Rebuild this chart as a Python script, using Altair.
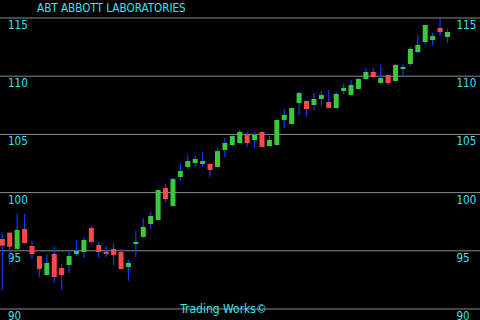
import altair as alt
import pandas as pd

# OHLC (61 sessions)
opens = [96.01, 96.56, 95.16, 96.87, 95.41, 94.55, 92.92, 94.73, 93.52, 93.78,
         94.73, 94.90, 96.96, 95.50, 94.92, 95.16, 94.90, 93.61, 95.58, 96.19,
         97.30, 97.65, 100.40, 98.85, 101.34, 102.20, 102.54, 102.46, 102.46, 102.20,
         103.66, 104.09, 104.26, 104.95, 104.52, 105.21, 104.00, 104.09, 106.24, 105.89,
         107.70, 107.87, 107.52, 108.04, 107.78, 107.27, 108.73, 108.38, 108.90, 109.76,
         110.36, 109.41, 110.10, 109.59, 110.62, 111.05, 112.08, 112.94, 113.11, 114.14,
         113.37]
highs = [96.50, 96.60, 98.16, 98.16, 95.84, 94.60, 94.73, 95.33, 93.87, 94.90,
         95.93, 96.19, 97.13, 95.76, 95.41, 95.67, 95.16, 94.21, 96.70, 97.82,
         98.33, 100.31, 100.74, 101.25, 102.54, 103.23, 103.14, 103.49, 102.50, 103.83,
         104.69, 104.90, 105.46, 105.21, 105.21, 105.25, 104.86, 106.30, 107.18, 107.30,
         108.64, 107.95, 108.56, 108.73, 108.81, 108.64, 109.33, 109.67, 109.80, 110.70,
         110.70, 110.96, 110.19, 111.05, 111.05, 112.51, 113.54, 114.40, 113.71, 114.91,
         114.05]
lows = [91.63, 93.78, 95.10, 95.60, 94.30, 92.75, 92.90, 92.32, 91.63, 93.09,
        94.55, 94.38, 95.67, 94.38, 94.47, 93.78, 93.35, 92.41, 94.47, 96.15,
        96.87, 97.60, 99.19, 98.80, 101.00, 102.03, 102.20, 102.20, 101.34, 102.15,
        103.06, 103.92, 104.20, 103.92, 103.83, 103.90, 103.95, 104.05, 105.55, 105.85,
        106.67, 106.49, 107.10, 107.44, 107.27, 107.18, 108.47, 108.35, 108.85, 109.67,
        109.90, 109.38, 109.24, 109.55, 110.02, 110.88, 111.99, 112.76, 112.59, 113.45,
        112.85]
closes = [95.44, 95.35, 96.79, 95.67, 94.73, 93.44, 93.95, 92.75, 92.92, 94.55,
          94.98, 95.93, 95.76, 94.90, 94.73, 94.64, 93.44, 93.95, 95.76, 97.05,
          97.99, 100.22, 99.45, 101.17, 101.86, 102.71, 102.89, 102.71, 101.94, 103.57,
          104.26, 104.86, 105.21, 104.26, 104.95, 103.92, 104.52, 106.24, 106.67, 107.27,
          108.56, 107.18, 108.04, 108.38, 107.27, 108.47, 108.99, 109.24, 109.76, 110.36,
          109.93, 109.84, 109.41, 110.96, 110.79, 112.34, 112.68, 114.40, 113.45, 113.80,
          113.80]
grid_levels = [90, 95, 100, 105, 110, 115]
title_text = "ABT  ABBOTT LABORATORIES"
credit_text = "Trading Works\u00a9"

CYAN = "#36e4f0"
FONT = "Liberation Sans Narrow, DejaVu Sans Condensed, Roboto, DejaVu Sans, sans-serif"

df = pd.DataFrame({
    "i": list(range(len(opens))),
    "open": opens, "high": highs, "low": lows, "close": closes,
})
df["dir"] = ["up" if c >= o else "down" for o, c in zip(opens, closes)]
grid_df = pd.DataFrame({"level": grid_levels, "label": [str(v) for v in grid_levels]})
title_df = pd.DataFrame({"t": [title_text]})
credit_df = pd.DataFrame({"t": [credit_text]})

xs = alt.Scale(domain=[-0.31, 64.38], nice=False, zero=False)
ys = alt.Scale(domain=[89.055, 116.546], nice=False, zero=False)

grid = alt.Chart(grid_df).mark_rule(color="#8a8a8a", strokeWidth=1).encode(
    y=alt.Y("level:Q", scale=ys, axis=None),
    x=alt.value(0), x2=alt.value(480),
)
left_lab = alt.Chart(grid_df).mark_text(
    color=CYAN, font=FONT, fontSize=11.5, align="left", baseline="alphabetic", dy=11
).encode(y=alt.Y("level:Q", scale=ys, axis=None), x=alt.value(8), text=alt.Text("label:N"))
right_lab = alt.Chart(grid_df).mark_text(
    color=CYAN, font=FONT, fontSize=11.5, align="left", baseline="alphabetic", dy=11
).encode(y=alt.Y("level:Q", scale=ys, axis=None), x=alt.value(456.5), text=alt.Text("label:N"))

wick = alt.Chart(df).mark_rule(color="#0a3cff", strokeWidth=1.2).encode(
    x=alt.X("i:Q", scale=xs, axis=None),
    y=alt.Y("low:Q", scale=ys, axis=None),
    y2=alt.Y2("high:Q"),
)
body = alt.Chart(df).mark_rule(strokeWidth=5).encode(
    x=alt.X("i:Q", scale=xs, axis=None),
    y=alt.Y("open:Q", scale=ys, axis=None),
    y2=alt.Y2("close:Q"),
    color=alt.Color("dir:N", scale=alt.Scale(domain=["up", "down"],
                                             range=["#3cc83c", "#ff4848"]), legend=None),
)

title = alt.Chart(title_df).mark_text(
    color=CYAN, font=FONT, fontSize=11.6, align="left", baseline="alphabetic"
).encode(x=alt.value(37), y=alt.value(11.5), text=alt.Text("t:N"))
credit = alt.Chart(credit_df).mark_text(
    color=CYAN, font=FONT, fontSize=12, align="center", baseline="alphabetic"
).encode(x=alt.value(223.5), y=alt.value(312.5), text=alt.Text("t:N"))

chart = alt.layer(grid, left_lab, right_lab, wick, body, title, credit).properties(
    width=480, height=320, background="black", padding=0,
    autosize=alt.AutoSizeParams(type="none"),
).configure_view(strokeWidth=0)

chart.save("out.html", embed_options={"renderer": "svg", "actions": False})
